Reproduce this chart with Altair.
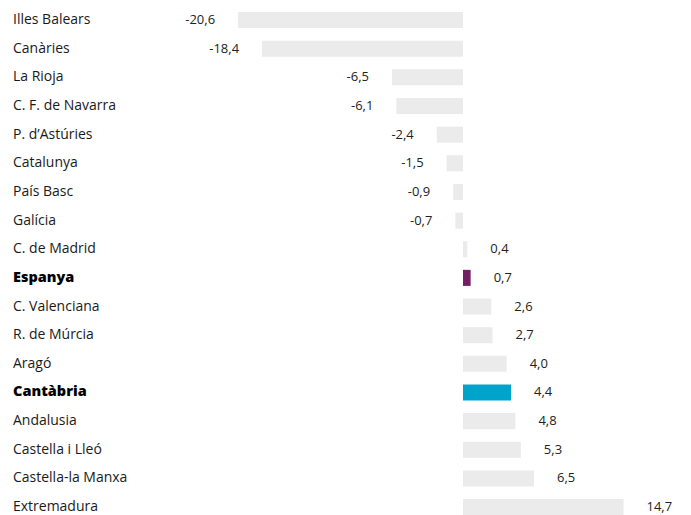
import altair as alt
import pandas as pd

regions = ["Illes Balears", "Canàries", "La Rioja", "C. F. de Navarra", "P. d’Astúries",
           "Catalunya", "País Basc", "Galícia", "C. de Madrid", "Espanya",
           "C. Valenciana", "R. de Múrcia", "Aragó", "Cantàbria", "Andalusia",
           "Castella i Lleó", "Castella-la Manxa", "Extremadura"]
values = [-20.6, -18.4, -6.5, -6.1, -2.4, -1.5, -0.9, -0.7, 0.4, 0.7,
          2.6, 2.7, 4.0, 4.4, 4.8, 5.3, 6.5, 14.7]
highlighted = ["Espanya", "Cantàbria"]

df = pd.DataFrame({"region": regions, "value": values})

FONT = "Open Sans"
step = 28.65
n = len(regions)
pi, po = 0.44, 0.14
H = step * (n - pi + 2 * po)

y = alt.Y("region:N", sort=regions, axis=None,
          scale=alt.Scale(paddingInner=pi, paddingOuter=po))
xscale = alt.Scale(domain=[-41.67, 20.15], nice=False, zero=False)

base = alt.Chart(df).transform_calculate(
    grp="datum.region == 'Espanya' ? 'Espanya' : (datum.region == 'Cantàbria' ? 'Cantàbria' : 'altres')",
    label="replace(replace(format(datum.value, '.1f'), '.', ','), '\u2212', '-')",
    zero="0",
)

bars = base.mark_bar().encode(
    x=alt.X("value:Q", scale=xscale, axis=None),
    x2=alt.X2("zero:Q"),
    y=y,
    color=alt.Color("grp:N", legend=None,
                    scale=alt.Scale(domain=["Espanya", "Cantàbria", "altres"],
                                    range=["#731f63", "#00a3c9", "#ebebeb"])),
)

pos_lab = base.transform_filter("datum.value >= 0").mark_text(
    align="left", baseline="middle", dx=23, font=FONT, fontSize=13, color="#222222"
).encode(x=alt.X("value:Q", scale=xscale), y=y, text="label:N")

neg_lab = base.transform_filter("datum.value < 0").mark_text(
    align="right", baseline="middle", dx=-23, font=FONT, fontSize=13, color="#222222"
).encode(x=alt.X("value:Q", scale=xscale), y=y, text="label:N")

names = base.transform_filter(
    alt.FieldOneOfPredicate(field="region", oneOf=highlighted)).mark_text(
    align="left", baseline="middle", font=FONT, fontSize=14.5, fontWeight=800, color="#000000"
).encode(x=alt.value(5), y=y, text="region:N")

names_plain = base.transform_filter(
    {"not": alt.FieldOneOfPredicate(field="region", oneOf=highlighted)}).mark_text(
    align="left", baseline="middle", font=FONT, fontSize=14, color="#1a1a1a"
).encode(x=alt.value(5), y=y, text="region:N")

chart = alt.layer(bars, pos_lab, neg_lab, names, names_plain).properties(
    width=675, height=H, padding={"left": 0, "top": 0, "right": 0, "bottom": 0},
    background="#ffffff"
).configure_view(stroke=None, strokeWidth=0)

chart.save("out.html", embed_options={"renderer": "svg", "actions": False})
